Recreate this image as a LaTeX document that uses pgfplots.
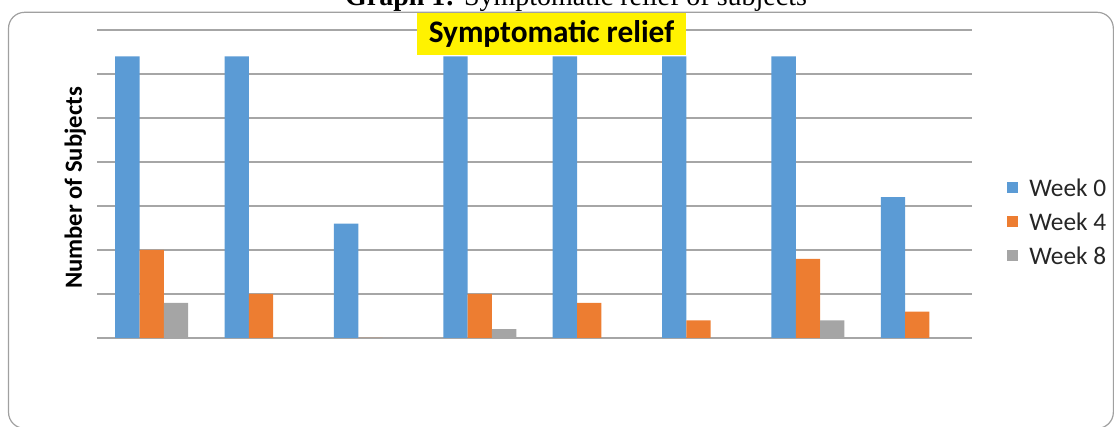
\documentclass[border=0pt]{standalone}
\usepackage{fontspec}
\setmainfont{Carlito}
\newfontfamily\timesfont{Liberation Serif}
\usepackage{pgfplots}
\usepackage{pgfplotstable}
\pgfplotsset{compat=1.18}

\definecolor{wk0}{HTML}{5B9BD5}
\definecolor{wk4}{HTML}{ED7D31}
\definecolor{wk8}{HTML}{A5A5A5}
\definecolor{gridgray}{HTML}{A6A6A6}
\definecolor{framegray}{HTML}{A0A0A0}
\definecolor{legtext}{HTML}{262626}

% number of subjects per symptom at week 0, 4 and 8
\pgfplotstableread{
cat w0 w4 w8
1   32 10 4
2   32 5  0
3   13 0  0
4   32 5  1
5   32 4  0
6   32 2  0
7   32 9  2
8   16 3  0
}\relief

\begin{document}
\begin{tikzpicture}
\path[use as bounding box, clip] (0,0) rectangle (837pt,320.25pt);
\draw[framegray, line width=0.9pt, rounded corners=12pt] (6.4pt,311pt) rectangle (835pt,-1pt);
\node[anchor=base, font=\timesfont\fontsize{21}{25}\selectfont] at (432pt,315.75pt)
  {\textbf{Graph 1:} Symptomatic relief of subjects};

\begin{axis}[
    at={(72.75pt,66.75pt)}, anchor=south west,
    scale only axis, width=656.25pt, height=231pt,
    xmin=0.5, xmax=8.5, ymin=0, ymax=35,
    ybar=0pt, bar width=18.25pt,
    xtick=\empty, ytick={0,5,...,35}, yticklabels={},
    ymajorgrids, major grid style={gridgray, line width=0.9pt},
    axis line style={draw=none}, major tick style={draw=none},
    legend cell align=left,
    legend style={at={(1.04,0.519)}, anchor=north west, draw=none, fill=none,
        inner sep=0pt, row sep=12pt, column sep=8.25pt,
        nodes={inner sep=0pt, text height=13.5pt, text depth=0pt, text=legtext,
               font=\fontsize{19}{23}\selectfont}},
    legend image code/.code={\fill[#1] (0pt,-4.125pt) rectangle (8.25pt,4.125pt);},
]
    \addplot[fill=wk0, draw=none] table[x=cat, y=w0] {\relief};
    \addplot[fill=wk4, draw=none] table[x=cat, y=w4] {\relief};
    \addplot[fill=wk8, draw=none] table[x=cat, y=w8] {\relief};
    \legend{Week 0, Week 4, Week 8}
\end{axis}

\node[rotate=90, font=\bfseries\fontsize{18.5}{22}\selectfont] at (56.5pt,179.25pt) {Number of Subjects};
\fill[yellow] (312.75pt,279pt) rectangle (514.5pt,310.5pt);
\node[anchor=base, font=\bfseries\fontsize{23.5}{27}\selectfont] at (413.6pt,288pt) {Symptomatic relief};
\end{tikzpicture}
\end{document}
